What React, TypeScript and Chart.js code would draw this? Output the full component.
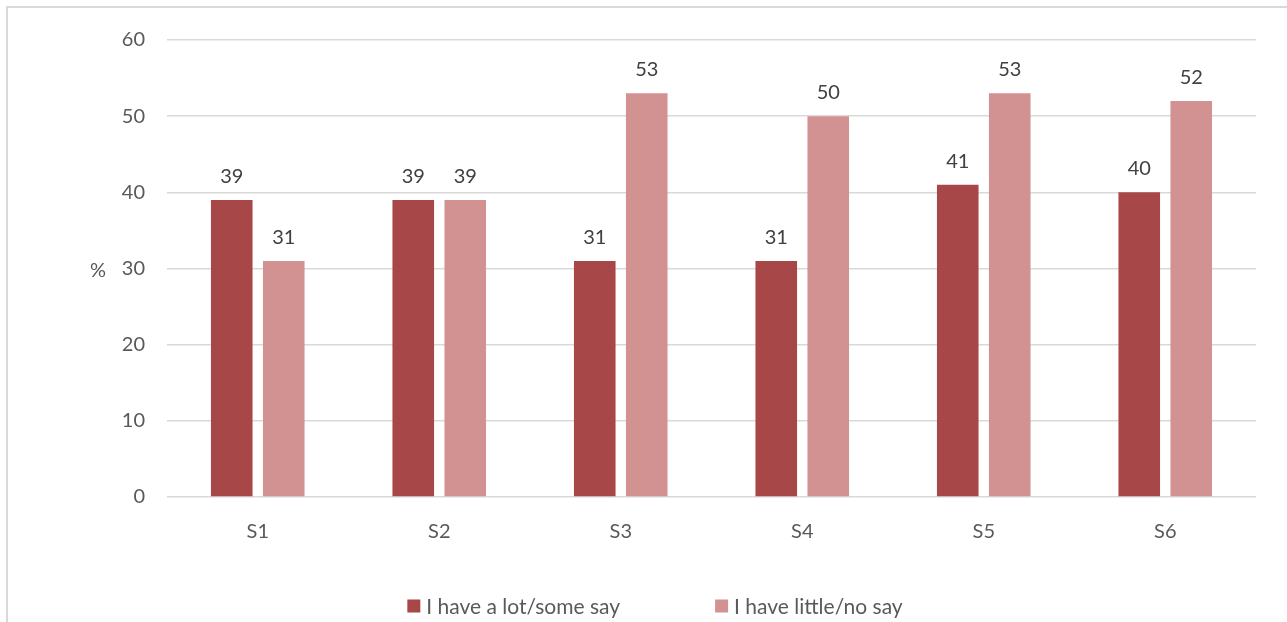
import React, { useEffect, useRef } from "react";
import { Chart, registerables } from "chart.js";

Chart.register(...registerables);

const categories = ["S1", "S2", "S3", "S4", "S5", "S6"];
const seriesNames = ["I have a lot/some say", "I have little/no say"];
const lotSomeSay = [39, 39, 31, 31, 41, 40];
const littleNoSay = [31, 39, 53, 50, 53, 52];
const seriesColors = ["#A84747", "#D39292"];
const yTicks = [0, 10, 20, 30, 40, 50, 60];
const yAxisLabel = "%";

const FONT = "Lato, 'Open Sans', sans-serif";

const dataLabelPlugin = {
  id: "dataLabels",
  afterDatasetsDraw(chart: any) {
    const ctx = chart.ctx;
    ctx.save();
    ctx.font = `20px ${FONT}`;
    ctx.fillStyle = "#404040";
    ctx.textAlign = "center";
    ctx.textBaseline = "alphabetic";
    chart.data.datasets.forEach((ds: any, i: number) => {
      const meta = chart.getDatasetMeta(i);
      meta.data.forEach((bar: any, j: number) => {
        ctx.fillText(String(ds.data[j]), bar.x, bar.y - 17);
      });
    });
    ctx.restore();
  },
};

const axisTitlePlugin = {
  id: "axisTitle",
  afterDraw(chart: any) {
    const ctx = chart.ctx;
    const area = chart.chartArea;
    ctx.save();
    ctx.font = `20px ${FONT}`;
    ctx.fillStyle = "#595959";
    ctx.textAlign = "center";
    ctx.textBaseline = "middle";
    ctx.fillText(yAxisLabel, 98, (area.top + area.bottom) / 2 + 2);
    ctx.restore();
  },
};

const legendPlugin = {
  id: "customLegend",
  afterDraw(chart: any) {
    const ctx = chart.ctx;
    ctx.save();
    ctx.font = `21px ${FONT}`;
    ctx.textBaseline = "middle";
    ctx.textAlign = "left";
    const box = 13;
    const boxGap = 6;
    const itemGap = 95;
    const items = chart.data.datasets.map((ds: any) => ({
      label: ds.label,
      color: ds.backgroundColor,
      w: box + boxGap + ctx.measureText(ds.label).width,
    }));
    const total = items.reduce((s: number, it: any) => s + it.w, 0) + itemGap * (items.length - 1);
    let x = 655 - total / 2;
    const cy = 606;
    items.forEach((it: any) => {
      ctx.fillStyle = it.color;
      ctx.fillRect(x, cy - box / 2, box, box);
      ctx.fillStyle = "#595959";
      ctx.fillText(it.label, x + box + boxGap, cy + 1);
      x += it.w + itemGap;
    });
    ctx.restore();
  },
};

export default function App() {
  const canvasRef = useRef<HTMLCanvasElement | null>(null);

  useEffect(() => {
    document.body.style.margin = "0";
    const canvas = canvasRef.current;
    if (!canvas) return;
    const chart = new Chart(canvas, {
      type: "bar",
      data: {
        labels: categories,
        datasets: [
          {
            label: seriesNames[0],
            data: lotSomeSay,
            backgroundColor: seriesColors[0],
            categoryPercentage: 0.573,
            barPercentage: 0.8,
          },
          {
            label: seriesNames[1],
            data: littleNoSay,
            backgroundColor: seriesColors[1],
            categoryPercentage: 0.573,
            barPercentage: 0.8,
          },
        ],
      },
      options: {
        animation: false,
        responsive: false,
        maintainAspectRatio: false,
        layout: { padding: { top: 40, right: 31, bottom: 0, left: 0 } },
        plugins: {
          legend: { display: false },
          tooltip: { enabled: false },
          title: { display: false },
        },
        scales: {
          x: {
            grid: { display: false },
            border: { display: false },
            ticks: {
              color: "#595959",
              font: { family: FONT, size: 20 },
              padding: 15,
            },
            afterFit(scale: any) {
              scale.height = 125;
            },
          },
          y: {
            min: 0,
            max: 60,
            afterBuildTicks(scale: any) {
              scale.ticks = yTicks.map((v) => ({ value: v }));
            },
            grid: { color: "#D9D9D9", lineWidth: 1.5, drawTicks: false },
            border: { display: false },
            ticks: {
              color: "#595959",
              font: { family: FONT, size: 20 },
              padding: 22,
            },
            afterFit(scale: any) {
              scale.width = 167;
            },
          },
        },
      },
      plugins: [dataLabelPlugin, axisTitlePlugin, legendPlugin],
    });
    return () => chart.destroy();
  }, []);

  return (
    <div style={{ position: "relative", width: 1287, height: 622, background: "#fff", overflow: "hidden" }}>
      <div
        style={{
          position: "absolute",
          left: 6,
          top: 6,
          width: 1290,
          height: 620,
          borderLeft: "2px solid #D9D9D9",
          borderTop: "2px solid #D9D9D9",
        }}
      />
      <canvas ref={canvasRef} width={1287} height={622} style={{ position: "absolute", left: 0, top: 0 }} />
    </div>
  );
}
